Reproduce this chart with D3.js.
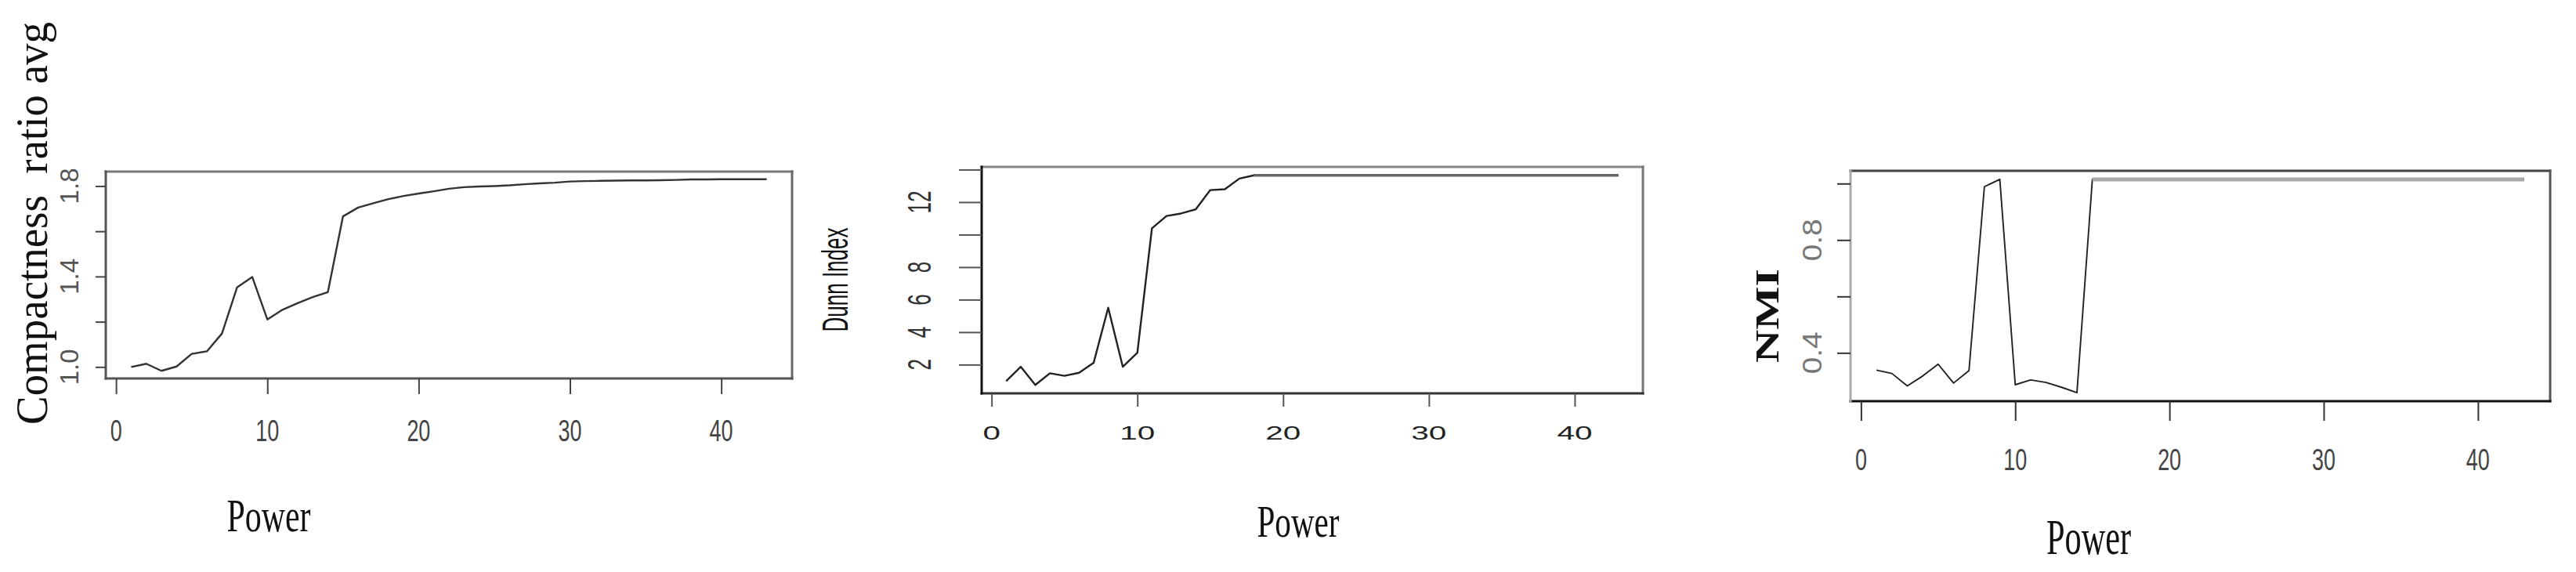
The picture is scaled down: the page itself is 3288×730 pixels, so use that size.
<!DOCTYPE html>
<html>
<head>
<meta charset="utf-8">
<script src="https://cdn.jsdelivr.net/npm/d3@7"></script>
<style>
    body { margin: 0; background: #fff; }
    svg { display: block; }
    text { white-space: pre; }
</style>
</head>
<body>
<script>
// x values shared by all three plots
const power = [1, 2, 3, 4, 5, 6, 7, 8, 9, 10, 11, 12, 13, 14, 15, 16, 17, 18, 19, 20,
    21, 22, 23, 24, 25, 26, 27, 28, 29, 30, 31, 32, 33, 34, 35, 36, 37, 38, 39, 40, 41, 42, 43]

const compactness = [1.000, 1.014, 0.983, 1.002, 1.058, 1.069, 1.148, 1.352, 1.398, 1.210,
    1.253, 1.282, 1.309, 1.331, 1.666, 1.705, 1.724, 1.742, 1.756, 1.767,
    1.777, 1.788, 1.795, 1.798, 1.800, 1.803, 1.808, 1.812, 1.815, 1.820,
    1.822, 1.823, 1.824, 1.825, 1.825, 1.826, 1.827, 1.829, 1.829, 1.830,
    1.830, 1.830, 1.830]

const dunnIndex = [0.99, 1.87, 0.75, 1.47, 1.31, 1.50, 2.11, 5.50, 1.87, 2.74,
    10.39, 11.15, 11.30, 11.55, 12.74, 12.79, 13.45, 13.65, 13.65, 13.65,
    13.65, 13.65, 13.65, 13.65, 13.65, 13.65, 13.65, 13.65, 13.65, 13.65,
    13.65, 13.65, 13.65, 13.65, 13.65, 13.65, 13.65, 13.65, 13.65, 13.65,
    13.65, 13.65, 13.65]

const nmi = [0.339, 0.327, 0.283, 0.318, 0.360, 0.293, 0.337, 0.989, 1.015, 0.287,
    0.304, 0.295, 0.278, 0.259, 1.015, 1.015, 1.015, 1.015, 1.015, 1.015,
    1.015, 1.015, 1.015, 1.015, 1.015, 1.015, 1.015, 1.015, 1.015, 1.015,
    1.015, 1.015, 1.015, 1.015, 1.015, 1.015, 1.015, 1.015, 1.015, 1.015,
    1.015, 1.015, 1.015]

const xTicks = [0, 10, 20, 30, 40]
const xTickLabels = ['0', '10', '20', '30', '40']

const compTicks = [1.0, 1.2, 1.4, 1.6, 1.8]
const compTickLabels = ['1.0', '', '1.4', '', '1.8']
const dunnTicks = [2, 4, 6, 8, 10, 12, 14]
const dunnTickLabels = ['2', '4', '6', '8', '', '12', '']
const nmiTicks = [0.4, 0.6, 0.8, 1.0]
const nmiTickLabels = ['0.4', '', '0.8', '']

const xTitle = 'Power'
const yTitles = ['Compactness  ratio avg', 'Dunn Index', 'NMI']

var W = 3288, H = 730
var sans = 'Liberation Sans, Arial, Helvetica, sans-serif'
var serif = 'Liberation Serif, Times New Roman, serif'

var svg = d3.select('body').append('svg')
    .attr('width', W)
    .attr('height', H)
svg.append('rect').attr('width', W).attr('height', H).attr('fill', '#fff')

// R style axis range: extend data range by 4% each side
function rpad(ext) {
    let r = ext[1] - ext[0]
    return [ext[0] - 0.04 * r, ext[1] + 0.04 * r]
}

function make_panel(cfg) {
    var box = cfg.box
    var xScale = d3.scaleLinear()
        .domain(rpad(d3.extent(power)))
        .range([box.left, box.right])
    var yScale = d3.scaleLinear()
        .domain(rpad(d3.extent(cfg.values)))
        .range([box.bottom, box.top])

    var data = power.map((p, i) => ({ x: p, y: cfg.values[i] }))
    var g = svg.append('g')

    var line = d3.line()
        .x(d => xScale(d.x))
        .y(d => yScale(d.y))

    g.append('path')
        .datum(data)
        .attr('d', line)
        .attr('fill', 'none')
        .attr('stroke', cfg.lineColor)
        .attr('stroke-width', cfg.lineWidth)
        .attr('stroke-linejoin', 'round')

    // the flat end of the curve is drawn heavier in the picture
    if (cfg.tailFrom) {
        g.append('path')
            .datum(data.filter(d => d.x >= cfg.tailFrom))
            .attr('d', line)
            .attr('fill', 'none')
            .attr('stroke', cfg.tailColor)
            .attr('stroke-width', cfg.tailWidth)
    }

    // box, one side at a time (sides have different greys)
    var sides = [
        [box.left, box.top, box.right, box.top, cfg.frame.top],
        [box.right, box.top, box.right, box.bottom, cfg.frame.right],
        [box.left, box.bottom, box.right, box.bottom, cfg.frame.bottom],
        [box.left, box.top, box.left, box.bottom, cfg.frame.left]
    ]
    g.selectAll('.side').data(sides).enter().append('line')
        .attr('class', 'side')
        .attr('x1', d => d[0]).attr('y1', d => d[1])
        .attr('x2', d => d[2]).attr('y2', d => d[3])
        .attr('stroke', d => d[4])
        .attr('stroke-width', 3)
        .attr('stroke-linecap', 'square')

    // x axis ticks
    var gx = g.append('g')
        .attr('transform', 'translate(0,' + box.bottom + ')')
        .call(d3.axisBottom(xScale).tickValues(xTicks).tickSize(cfg.xTickLen).tickFormat(''))
    gx.select('.domain').remove()
    gx.selectAll('line').attr('stroke', cfg.tickColor).attr('stroke-width', 2)

    g.selectAll('.xlab').data(xTicks).enter().append('text')
        .attr('class', 'xlab')
        .attr('x', d => xScale(d))
        .attr('y', cfg.xLab.y)
        .attr('text-anchor', 'middle')
        .attr('font-family', sans)
        .attr('font-size', cfg.xLab.size)
        .attr('textLength', (d, i) => xTickLabels[i].length * cfg.xLab.digitW)
        .attr('lengthAdjust', 'spacingAndGlyphs')
        .attr('fill', cfg.xLab.color)
        .text((d, i) => xTickLabels[i])

    // y axis ticks
    var gy = g.append('g')
        .attr('transform', 'translate(' + box.left + ',0)')
        .call(d3.axisLeft(yScale).tickValues(cfg.yTicks).tickSize(cfg.yTickLen).tickFormat(''))
    gy.select('.domain').remove()
    gy.selectAll('line').attr('stroke', cfg.tickColor).attr('stroke-width', 2)

    // y labels are parallel to the axis, like R's las=0
    var bx = cfg.yLab.x
    g.selectAll('.ylab').data(cfg.yTicks).enter().append('text')
        .attr('class', 'ylab')
        .attr('x', bx)
        .attr('y', d => yScale(d))
        .attr('transform', d => 'rotate(-90,' + bx + ',' + yScale(d) + ')')
        .attr('text-anchor', 'middle')
        .attr('font-family', sans)
        .attr('font-size', cfg.yLab.size)
        .attr('textLength', (d, i) => cfg.yTickLabels[i].length ? cfg.yTickLabels[i].length * cfg.yLab.charW : null)
        .attr('lengthAdjust', 'spacingAndGlyphs')
        .attr('fill', cfg.yLab.color)
        .text((d, i) => cfg.yTickLabels[i])

    // y title
    var t = cfg.yTitle
    g.append('text')
        .attr('x', t.x).attr('y', t.y)
        .attr('transform', 'rotate(-90,' + t.x + ',' + t.y + ')')
        .attr('text-anchor', 'middle')
        .attr('font-family', t.font)
        .attr('font-weight', t.weight || 'normal')
        .attr('font-size', t.size)
        .attr('textLength', t.len)
        .attr('lengthAdjust', 'spacingAndGlyphs')
        .attr('fill', '#111')
        .text(t.text)

    // x title
    var xt = cfg.xTitle
    g.append('text')
        .attr('x', xt.x).attr('y', xt.y)
        .attr('text-anchor', 'middle')
        .attr('font-family', serif)
        .attr('font-size', xt.size)
        .attr('textLength', xt.len)
        .attr('lengthAdjust', 'spacingAndGlyphs')
        .attr('fill', '#111')
        .text(xTitle)
}

// Compactness
make_panel({
    values: compactness,
    box: { left: 135, top: 219, right: 1011, bottom: 483 },
    frame: { top: '#777', right: '#666', bottom: '#555', left: '#555' },
    lineColor: '#333', lineWidth: 2.4,
    tickColor: '#444', xTickLen: 20, yTickLen: 13,
    yTicks: compTicks, yTickLabels: compTickLabels,
    xLab: { y: 563, size: 39, digitW: 15, color: '#444' },
    yLab: { x: 100, size: 34, charW: 15.3, color: '#555' },
    yTitle: { text: yTitles[0], x: 60, y: 285, size: 56, len: 514, font: serif },
    xTitle: { x: 343, y: 678, size: 59, len: 107 }
})

// Dunn index
make_panel({
    values: dunnIndex,
    box: { left: 1253, top: 213, right: 2097, bottom: 502 },
    frame: { top: '#888', right: '#777', bottom: '#333', left: '#111' },
    lineColor: '#222', lineWidth: 2.4,
    tailFrom: 18, tailColor: '#666', tailWidth: 3.5,
    tickColor: '#555', xTickLen: 17, yTickLen: 29,
    yTicks: dunnTicks, yTickLabels: dunnTickLabels,
    xLab: { y: 561, size: 24, digitW: 22.5, color: '#222' },
    yLab: { x: 1188, size: 42, charW: 14.5, color: '#333' },
    yTitle: { text: yTitles[1], x: 1082, y: 357, size: 46, len: 133, font: sans },
    xTitle: { x: 1657, y: 685, size: 58, len: 105 }
})

// NMI
make_panel({
    values: nmi,
    box: { left: 2362, top: 218, right: 3255, bottom: 512 },
    frame: { top: '#444', right: '#555', bottom: '#111', left: '#aaa' },
    lineColor: '#222', lineWidth: 1.9,
    tailFrom: 15, tailColor: '#aaa', tailWidth: 5,
    tickColor: '#333', xTickLen: 25, yTickLen: 17,
    yTicks: nmiTicks, yTickLabels: nmiTickLabels,
    xLab: { y: 600, size: 39, digitW: 15, color: '#444' },
    yLab: { x: 2325, size: 35, charW: 18, color: '#777' },
    yTitle: { text: yTitles[2], x: 2270, y: 403, size: 43, len: 120, font: serif, weight: 'bold' },
    xTitle: { x: 2666, y: 707, size: 63, len: 108 }
})
</script>
</body>
</html>
